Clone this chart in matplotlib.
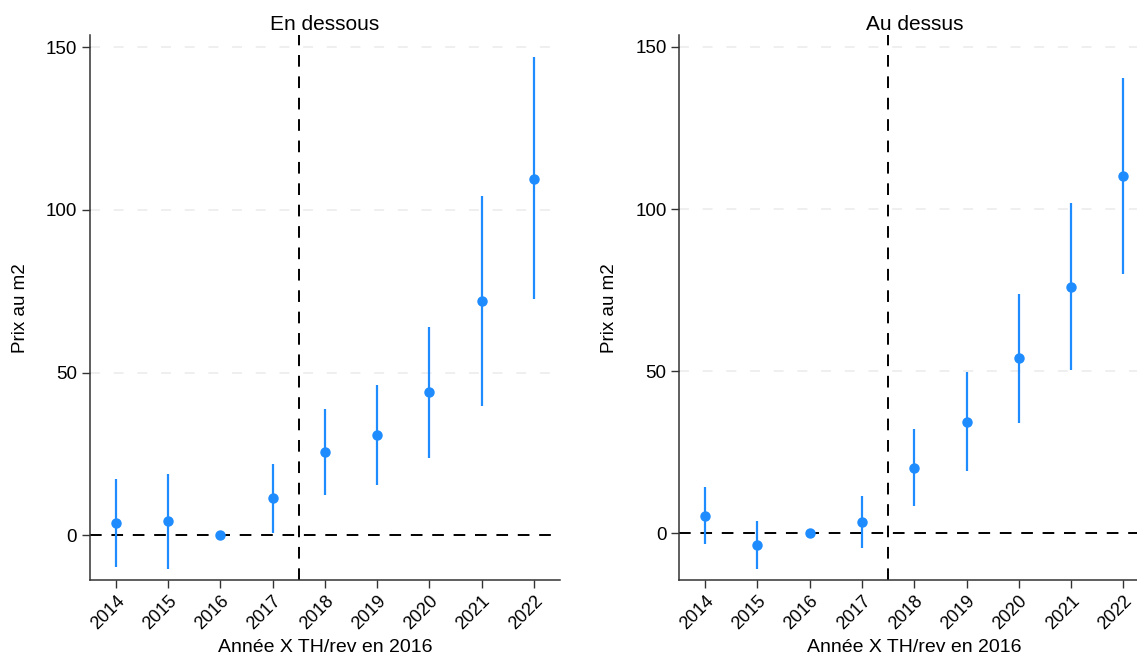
import matplotlib
matplotlib.use("Agg")
import matplotlib.pyplot as plt

plt.rcParams['font.family'] = ['Liberation Sans', 'DejaVu Sans']

years = [2014, 2015, 2016, 2017, 2018, 2019, 2020, 2021, 2022]
year_labels = [str(y) for y in years]

# En dessous
below_est = [3.8, 4.3, 0.0, 11.4, 25.7, 30.7, 43.9, 72.0, 109.6]
below_lo = [-9.6, -10.3, 0.0, 0.7, 12.5, 15.5, 23.8, 39.8, 72.5]
below_hi = [17.2, 18.8, 0.0, 21.9, 38.8, 46.2, 64.1, 104.2, 146.9]

# Au dessus
above_est = [5.4, -3.5, 0.0, 3.5, 20.2, 34.4, 54.0, 76.1, 110.1]
above_lo = [-3.3, -10.9, 0.0, -4.4, 8.4, 19.2, 34.1, 50.4, 79.9]
above_hi = [14.3, 3.8, 0.0, 11.6, 32.2, 49.8, 73.7, 101.8, 140.3]

yticks = [0, 50, 100, 150]
blue = '#1E8CFF'


def draw_panel(ax, title, est, lo, hi, ylim):
    for v in yticks[1:]:
        ax.axhline(v, color='#ebebeb', lw=1.1, ls=(0, (6.5, 9)), zorder=0)
    ax.axhline(0, color='black', lw=1.4, ls=(0, (6, 5)), zorder=1)
    ax.axvline(2017.5, color='black', lw=1.4, ls=(0, (6, 5)), zorder=1)
    ax.vlines(years, lo, hi, color=blue, lw=1.6, zorder=2)
    ax.plot(years, est, 'o', color=blue, ms=6.5, zorder=3)
    ax.set_xlim(2013.5, 2022.5)
    ax.set_ylim(*ylim)
    ax.set_xticks(years)
    ax.set_xticklabels(year_labels, rotation=45, ha='right', rotation_mode='anchor')
    ax.set_yticks(yticks)
    ax.tick_params(labelsize=13.5, length=6, width=1, direction='out', color='#333333', pad=3)
    ax.tick_params(axis='x', labelsize=13)
    ax.spines['top'].set_visible(False)
    ax.spines['right'].set_visible(False)
    for s in ('left', 'bottom'):
        ax.spines[s].set_color('#333333')
        ax.spines[s].set_linewidth(1.1)
    ax.set_title(title, fontsize=15, pad=4)
    ax.set_ylabel('Prix au m2', fontsize=13.5, labelpad=12)
    ax.set_xlabel('Année X TH/rev en 2016', fontsize=14, labelpad=4)


fig = plt.figure(figsize=(11.37, 6.56), dpi=100)
ax1 = fig.add_axes([0.0789, 0.1159, 0.4136, 0.8303])
ax2 = fig.add_axes([0.5972, 0.1159, 0.4138, 0.8303])

draw_panel(ax1, 'En dessous', below_est, below_lo, below_hi, (-13.7, 153.6))
draw_panel(ax2, 'Au dessus', above_est, above_lo, above_hi, (-14.4, 153.6))

fig.savefig('out.png', dpi=100)
